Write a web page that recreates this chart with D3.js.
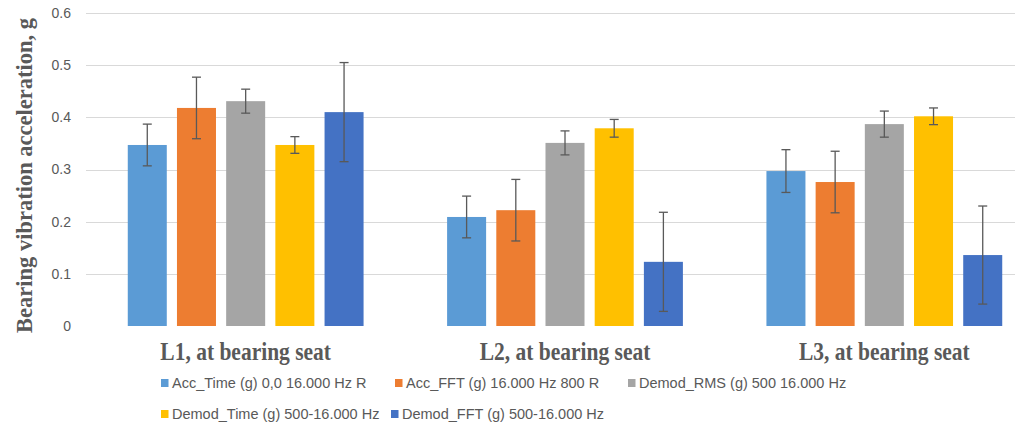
<!DOCTYPE html>
<html>
<head>
<meta charset="utf-8">
<script src="https://cdn.jsdelivr.net/npm/d3@7"></script>
<style>
  html, body { margin: 0; padding: 0; background: #fff; }
  svg { display: block; }
</style>
</head>
<body>
<svg id="chart" width="1015" height="425"></svg>
<script>
// ---- data ----
const categories = ["L1, at bearing seat", "L2, at bearing seat", "L3, at bearing seat"];
const seriesNames = [
  "Acc_Time (g) 0,0 16.000 Hz R",
  "Acc_FFT (g) 16.000 Hz 800 R",
  "Demod_RMS (g) 500 16.000 Hz",
  "Demod_Time (g) 500-16.000 Hz",
  "Demod_FFT (g) 500-16.000 Hz"
];
const seriesColors = ["#5B9BD5", "#ED7D31", "#A5A5A5", "#FFC000", "#4472C4"];
// values per series, one per category
const accTime   = [0.347, 0.209, 0.297];
const accFFT    = [0.418, 0.222, 0.276];
const demodRMS  = [0.431, 0.351, 0.387];
const demodTime = [0.347, 0.379, 0.402];
const demodFFT  = [0.410, 0.123, 0.136];
// error (± half-width) per series, one per category
const accTimeErr   = [0.040, 0.040, 0.041];
const accFFTErr    = [0.059, 0.059, 0.059];
const demodRMSErr  = [0.023, 0.023, 0.025];
const demodTimeErr = [0.016, 0.017, 0.016];
const demodFFTErr  = [0.095, 0.095, 0.094];
const yTicks = [0, 0.1, 0.2, 0.3, 0.4, 0.5, 0.6];
const yLabel = "Bearing vibration acceleration, g";

const values = [accTime, accFFT, demodRMS, demodTime, demodFFT];
const errs = [accTimeErr, accFFTErr, demodRMSErr, demodTimeErr, demodFFTErr];

// ---- layout ----
const svg = d3.select("#chart");
const plotLeft = 86, plotRight = 1044, plotTop = 13, plotBottom = 326;
const gray = "#595959";

const y = d3.scaleLinear().domain([0, 0.6]).range([plotBottom, plotTop]);
const x0 = d3.scaleBand().domain(categories).range([plotLeft, plotRight]).padding(0);
const x1 = d3.scaleBand().domain(d3.range(seriesNames.length))
  .range([0, x0.bandwidth()]).paddingInner(0.207).paddingOuter(0.849);

// gridlines (no line at 0)
svg.append("g").selectAll("line").data(yTicks.filter(d => d > 0)).join("line")
  .attr("x1", plotLeft).attr("x2", plotRight)
  .attr("y1", d => Math.round(y(d)) + 0.5).attr("y2", d => Math.round(y(d)) + 0.5)
  .attr("stroke", "#D9D9D9").attr("stroke-width", 1);

// y axis tick labels
const yAxis = d3.axisLeft(y).tickValues(yTicks).tickFormat(d => d === 0 ? "0" : d3.format(".1f")(d)).tickSize(0).tickPadding(0);
const yg = svg.append("g").attr("transform", `translate(71,0)`).call(yAxis);
yg.select(".domain").remove();
yg.selectAll("text").attr("fill", gray).style("font-family", "'Liberation Sans', Arial, sans-serif").style("font-size", "14px");

// bars
const groups = svg.append("g").selectAll("g").data(categories).join("g")
  .attr("transform", d => `translate(${x0(d)},0)`);

groups.each(function(cat, ci) {
  const g = d3.select(this);
  values.forEach((arr, si) => {
    const v = arr[ci];
    g.append("rect")
      .attr("x", x1(si)).attr("width", x1.bandwidth())
      .attr("y", y(v)).attr("height", y(0) - y(v))
      .attr("fill", seriesColors[si]);
  });
  values.forEach((arr, si) => {
    const v = arr[ci], e = errs[si][ci];
    const cx = x1(si) + x1.bandwidth() / 2;
    const eg = g.append("g").attr("stroke", gray).attr("stroke-width", 1.3);
    eg.append("line").attr("x1", cx).attr("x2", cx).attr("y1", y(v + e)).attr("y2", y(v - e));
    eg.append("line").attr("x1", cx - 4.5).attr("x2", cx + 4.5).attr("y1", y(v + e)).attr("y2", y(v + e));
    eg.append("line").attr("x1", cx - 4.5).attr("x2", cx + 4.5).attr("y1", y(v - e)).attr("y2", y(v - e));
  });
});

// category labels
const xAxis = d3.axisBottom(x0).tickSize(0).tickPadding(0);
const xg = svg.append("g").attr("transform", `translate(0,${plotBottom})`).call(xAxis);
xg.select(".domain").remove();
xg.selectAll("text")
  .attr("y", 0).attr("dy", 0)
  .attr("transform", "translate(0,33.5) scale(1,1.15)")
  .attr("fill", gray)
  .style("font-family", "'Liberation Serif', 'Times New Roman', serif")
  .style("font-weight", "bold").style("font-size", "21.5px");

// y-axis title
svg.append("text")
  .attr("transform", `translate(32,${(plotTop + plotBottom) / 2 + 6}) rotate(-90)`)
  .attr("text-anchor", "middle")
  .attr("fill", gray)
  .style("font-family", "'Liberation Serif', 'Times New Roman', serif")
  .style("font-weight", "bold").style("font-size", "22.5px")
  .text(yLabel);

// legend
const legendPos = [[161, 379], [395, 379], [628, 379], [161, 410], [391, 410]];
const lg = svg.append("g").selectAll("g").data(seriesNames).join("g")
  .attr("transform", (d, i) => `translate(${legendPos[i][0]},${legendPos[i][1]})`);
lg.append("rect").attr("width", 7.5).attr("height", 8).attr("fill", (d, i) => seriesColors[i]);
lg.append("text").attr("x", 11).attr("y", 8.5)
  .attr("fill", gray)
  .style("font-family", "'Liberation Sans', Arial, sans-serif").style("font-size", "14.5px")
  .text(d => d);
</script>
</body>
</html>
